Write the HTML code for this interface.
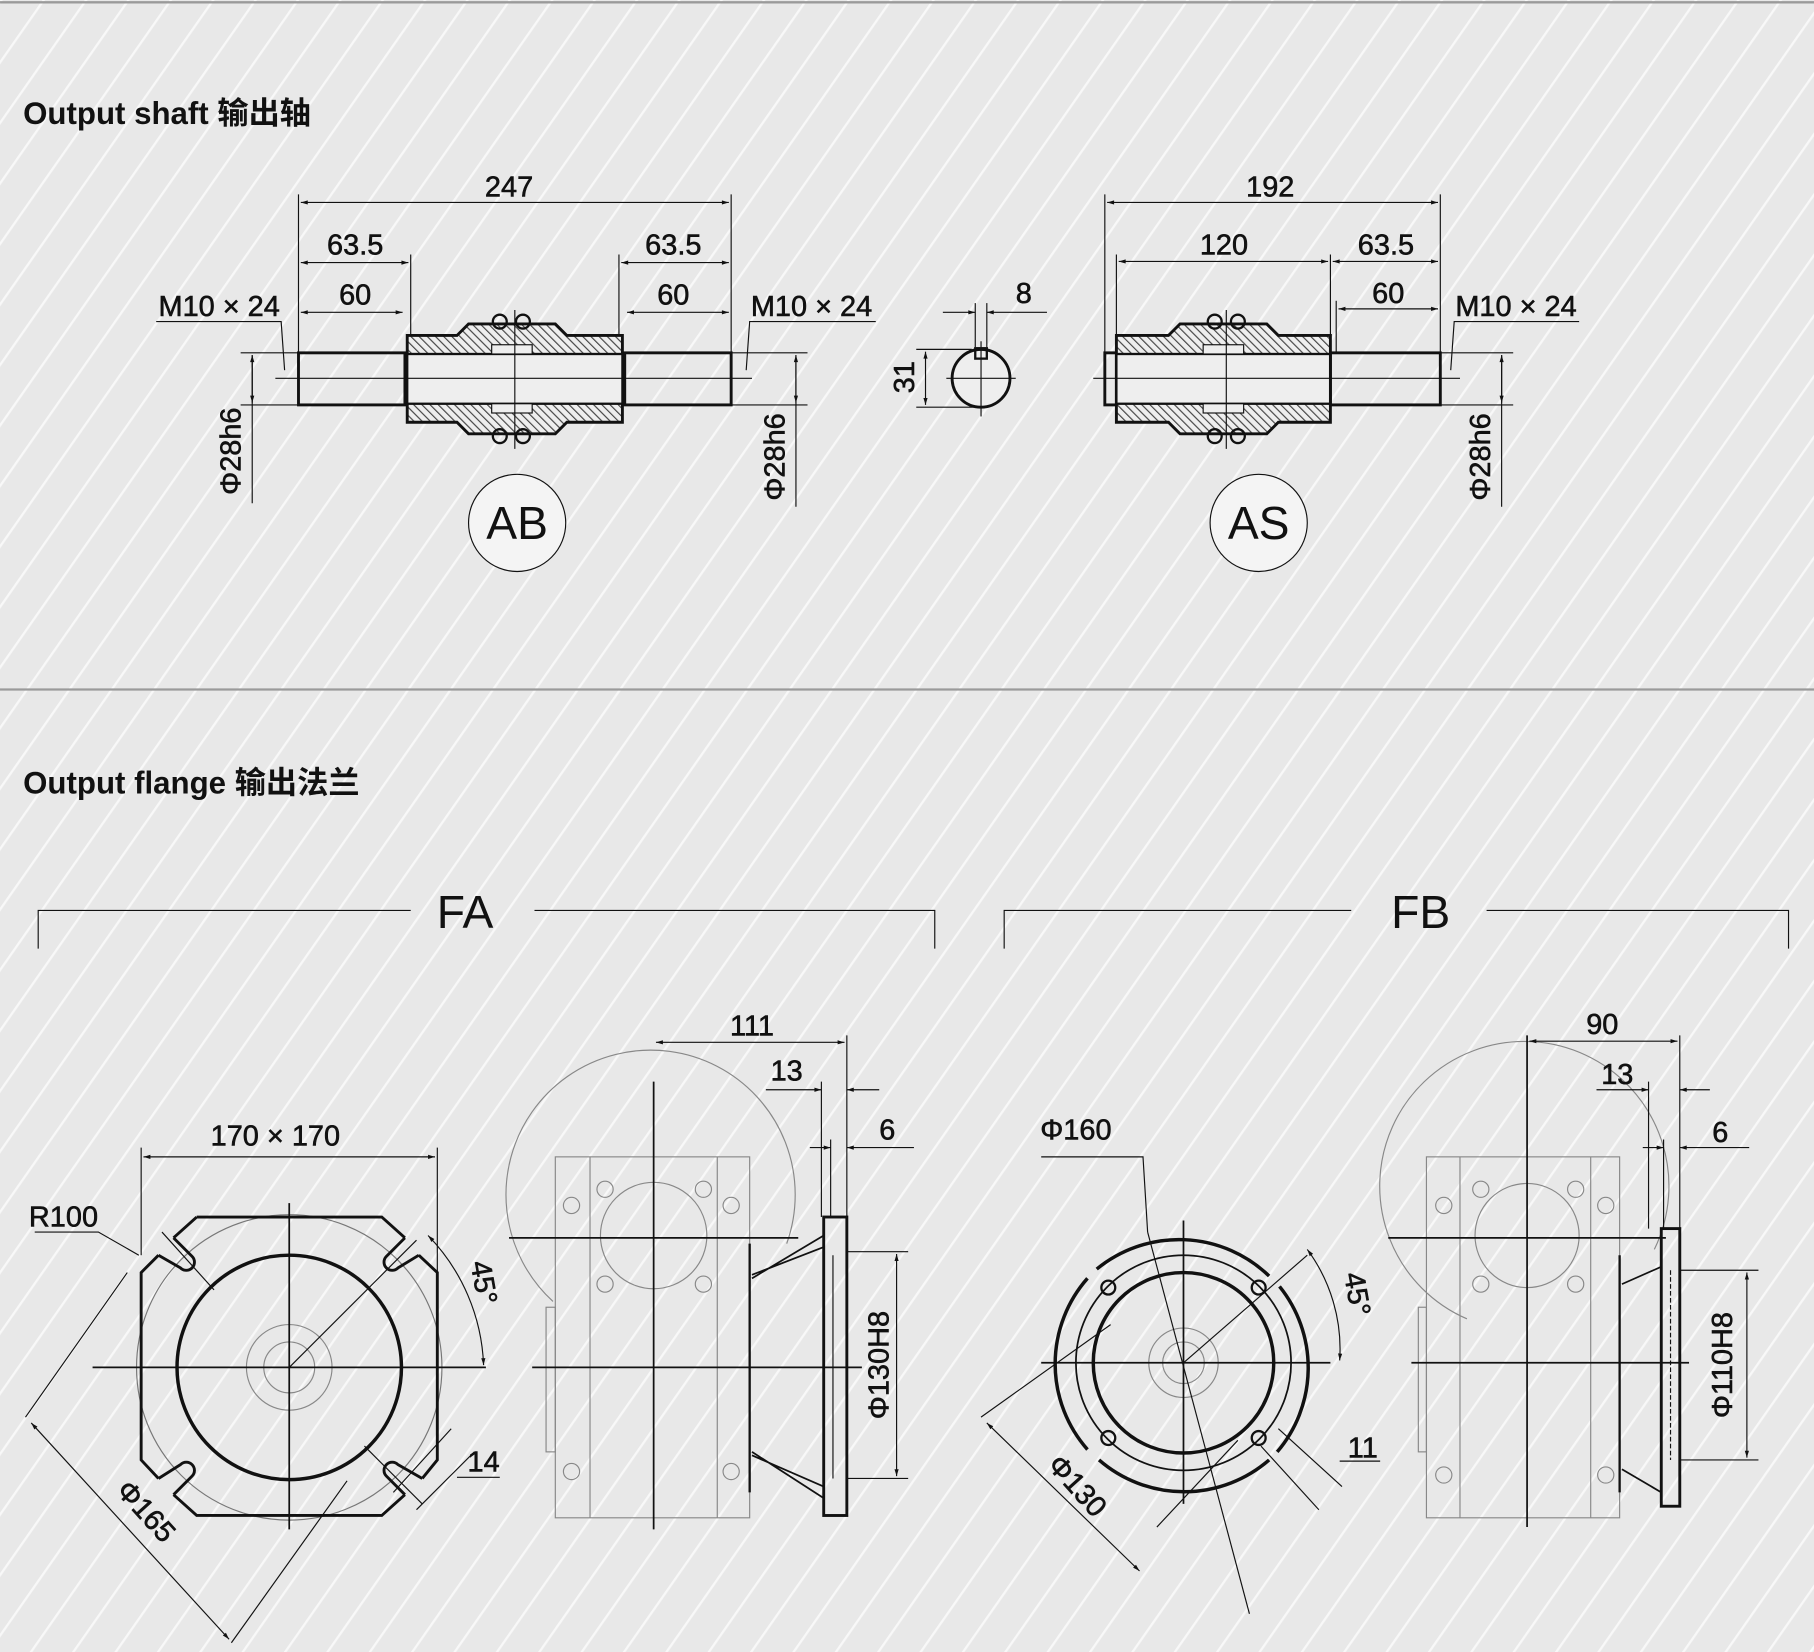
<!DOCTYPE html>
<html><head><meta charset="utf-8"><style>
html,body{margin:0;padding:0;background:#e9e9e9}
svg{display:block}
text{font-family:"Liberation Sans","Noto Sans CJK SC",sans-serif;fill:#111}
</style></head><body>
<svg width="1814" height="1652" viewBox="0 0 1568 1428" xmlns="http://www.w3.org/2000/svg">
<defs>
<pattern id="bg" width="30" height="30" patternUnits="userSpaceOnUse" patternTransform="rotate(35)">
<rect width="30" height="30" fill="#e8e8e8"/><rect width="2" height="30" fill="#f8f8f8"/>
</pattern>
<pattern id="hatch" width="5" height="5" patternUnits="userSpaceOnUse" patternTransform="rotate(-45)">
<rect width="5" height="5" fill="#eee"/><rect width="1" height="5" fill="#444"/>
</pattern>
<marker id="a" viewBox="0 0 10 10" refX="10" refY="5" markerWidth="8" markerHeight="6" orient="auto-start-reverse"><path d="M0,2 L10,5 L0,8z" fill="#111"/></marker>
</defs>
<rect width="1568" height="1428" fill="url(#bg)"/>
<line x1="0" y1="2" x2="1568" y2="2" stroke="#9a9a9a" stroke-width="2"/>
<line x1="0" y1="596" x2="1568" y2="596" stroke="#9a9a9a" stroke-width="2"/>
<text x="20" y="107" font-size="27" font-weight="bold" stroke="#111" stroke-width="0" >Output shaft 输出轴</text>
<text x="20" y="686" font-size="27" font-weight="bold">Output flange 输出法兰</text>

<g stroke="#111" fill="none" stroke-width="1">
<!-- AB -->
<line x1="258" y1="168" x2="258" y2="305"/><line x1="632" y1="168" x2="632" y2="305"/>
<line x1="260" y1="175" x2="630" y2="175" marker-start="url(#a)" marker-end="url(#a)"/>
<line x1="260" y1="227" x2="353" y2="227" marker-start="url(#a)" marker-end="url(#a)"/>
<line x1="355" y1="220" x2="355" y2="290"/><line x1="535" y1="220" x2="535" y2="290"/>
<line x1="537" y1="227" x2="630" y2="227" marker-start="url(#a)" marker-end="url(#a)"/>
<line x1="260" y1="270" x2="348" y2="270" marker-start="url(#a)" marker-end="url(#a)"/>
<line x1="542" y1="270" x2="630" y2="270" marker-start="url(#a)" marker-end="url(#a)"/>
<polyline points="135,278 243,278 246,320"/><polyline points="757,278 648,278 645,320"/>
<line x1="208" y1="305" x2="258" y2="305"/><line x1="208" y1="350" x2="258" y2="350"/>
<line x1="218" y1="307" x2="218" y2="435" /><line x1="218" y1="307" x2="218" y2="348" marker-start="url(#a)" marker-end="url(#a)"/>
<line x1="632" y1="305" x2="698" y2="305"/><line x1="632" y1="350" x2="698" y2="350"/>
<line x1="688" y1="307" x2="688" y2="438"/><line x1="688" y1="307" x2="688" y2="348" marker-start="url(#a)" marker-end="url(#a)"/>
<rect x="258" y="305" width="92" height="45" stroke-width="2.5"/>
<rect x="540" y="305" width="92" height="45" stroke-width="2.5"/>
<path d="M352,290 H395 L405,280 H480 L490,290 H538 V365 H490 L480,375 H405 L395,365 H352Z" fill="url(#hatch)" stroke-width="2.5"/>
<rect x="352" y="306" width="186" height="43" fill="#eee" stroke-width="2"/>
<rect x="425" y="298" width="35" height="8" fill="#eee"/><rect x="425" y="349" width="35" height="8" fill="#eee"/>
<circle cx="432" cy="278" r="6" stroke-width="2"/><circle cx="452" cy="278" r="6" stroke-width="2"/>
<circle cx="432" cy="377" r="6" stroke-width="2"/><circle cx="452" cy="377" r="6" stroke-width="2"/>
<line x1="445" y1="268" x2="445" y2="388"/>
<line x1="238" y1="327" x2="650" y2="327"/>
<circle cx="447" cy="452" r="42" fill="#f4f4f4"/>
<!-- key -->
<circle cx="848" cy="327" r="25" stroke-width="2.5" fill="#eee"/>
<rect x="843" y="301" width="10" height="9" stroke-width="2"/>
<line x1="848" y1="295" x2="848" y2="360"/><line x1="818" y1="327" x2="878" y2="327"/>
<line x1="843" y1="262" x2="843" y2="300"/><line x1="853" y1="262" x2="853" y2="300"/>
<line x1="815" y1="270" x2="843" y2="270" marker-end="url(#a)"/><line x1="905" y1="270" x2="853" y2="270" marker-end="url(#a)"/>
<line x1="792" y1="302" x2="840" y2="302"/><line x1="792" y1="352" x2="848" y2="352"/>
<line x1="800" y1="304" x2="800" y2="350" marker-start="url(#a)" marker-end="url(#a)"/>
<!-- AS -->
<line x1="955" y1="168" x2="955" y2="305"/><line x1="1245" y1="168" x2="1245" y2="305"/>
<line x1="957" y1="175" x2="1243" y2="175" marker-start="url(#a)" marker-end="url(#a)"/>
<line x1="965" y1="220" x2="965" y2="290"/><line x1="1150" y1="220" x2="1150" y2="290"/><line x1="1155" y1="260" x2="1155" y2="305"/>
<line x1="967" y1="226" x2="1148" y2="226" marker-start="url(#a)" marker-end="url(#a)"/>
<line x1="1152" y1="226" x2="1243" y2="226" marker-start="url(#a)" marker-end="url(#a)"/>
<line x1="1157" y1="267" x2="1243" y2="267" marker-start="url(#a)" marker-end="url(#a)"/>
<polyline points="1365,278 1257,278 1254,320"/>
<rect x="955" y="305" width="10" height="45" stroke-width="2.5"/>
<path d="M965,290 H1010 L1020,280 H1095 L1105,290 H1150 V365 H1105 L1095,375 H1020 L1010,365 H965Z" fill="url(#hatch)" stroke-width="2.5"/>
<rect x="965" y="306" width="185" height="43" fill="#eee" stroke-width="2"/>
<rect x="1040" y="298" width="35" height="8" fill="#eee"/><rect x="1040" y="349" width="35" height="8" fill="#eee"/>
<circle cx="1050" cy="278" r="6" stroke-width="2"/><circle cx="1070" cy="278" r="6" stroke-width="2"/>
<circle cx="1050" cy="377" r="6" stroke-width="2"/><circle cx="1070" cy="377" r="6" stroke-width="2"/>
<line x1="1060" y1="268" x2="1060" y2="388"/>
<rect x="1150" y="305" width="95" height="45" stroke-width="2.5"/>
<line x1="945" y1="327" x2="1262" y2="327"/>
<line x1="1245" y1="305" x2="1308" y2="305"/><line x1="1245" y1="350" x2="1308" y2="350"/>
<line x1="1298" y1="307" x2="1298" y2="438"/><line x1="1298" y1="307" x2="1298" y2="348" marker-start="url(#a)" marker-end="url(#a)"/>
<circle cx="1088" cy="452" r="42" fill="#f4f4f4"/>

<!-- brackets -->
<polyline points="33,820 33,787 355,787"/><polyline points="462,787 808,787 808,820"/>
<polyline points="868,820 868,787 1168,787"/><polyline points="1285,787 1546,787 1546,820"/>

<!-- FA front -->
<line x1="122" y1="992" x2="122" y2="1085"/><line x1="378" y1="992" x2="378" y2="1100"/>
<line x1="124" y1="1000" x2="376" y2="1000" marker-start="url(#a)" marker-end="url(#a)"/>
<circle cx="250" cy="1182" r="132" stroke="#777"/>
<path d="M170,1052 H330 L350,1070 M362,1085 L378,1100 V1262 L365,1278 M350,1292 L330,1310 H170 L150,1292 M137,1278 L122,1262 V1100 L137,1085 M150,1070 L170,1052" stroke-width="2.5"/>
<g stroke-width="2.5">
<path d="M150,1070 L166,1086 A7,7 0 0 1 156,1096 L137,1085"/>
<path d="M350,1070 L334,1086 A7,7 0 0 0 344,1096 L362,1085"/>
<path d="M150,1292 L166,1276 A7,7 0 0 0 156,1266 L137,1278"/>
<path d="M350,1292 L334,1276 A7,7 0 0 1 344,1266 L365,1278"/>
</g>
<circle cx="250" cy="1182" r="97" stroke-width="3"/>
<circle cx="250" cy="1182" r="37" stroke="#888"/><circle cx="250" cy="1182" r="22" stroke="#888"/>
<line x1="250" y1="1040" x2="250" y2="1322" stroke-width="1.5"/><line x1="80" y1="1182" x2="420" y2="1182" stroke-width="1.5"/>
<line x1="250" y1="1182" x2="360" y2="1072"/>
<line x1="140" y1="1065" x2="185" y2="1115"/><line x1="315" y1="1250" x2="365" y2="1300"/>
<path d="M370,1068 A170,170 0 0 1 418,1180" marker-start="url(#a)" marker-end="url(#a)"/>
<polyline points="30,1065 85,1065 120,1085"/>
<line x1="110" y1="1100" x2="22" y2="1225"/><line x1="300" y1="1280" x2="200" y2="1420"/>
<line x1="27" y1="1230" x2="198" y2="1417" marker-start="url(#a)" marker-end="url(#a)"/>
<line x1="340" y1="1290" x2="390" y2="1235"/><line x1="360" y1="1305" x2="410" y2="1255"/>
<polyline points="395,1277 432,1277"/>
<!-- FA side -->
<g stroke="#888">
<path d="M478,1125 A125,125 0 1 1 680,1075"/>
<rect x="480" y="1000" width="168" height="312"/>
<line x1="510" y1="1000" x2="510" y2="1312"/><line x1="620" y1="1000" x2="620" y2="1312"/>
<circle cx="565" cy="1068" r="46"/>
<circle cx="523" cy="1028" r="7"/><circle cx="608" cy="1028" r="7"/><circle cx="523" cy="1110" r="7"/><circle cx="608" cy="1110" r="7"/>
<circle cx="494" cy="1042" r="7"/><circle cx="632" cy="1042" r="7"/><circle cx="494" cy="1272" r="7"/><circle cx="632" cy="1272" r="7"/>
<rect x="472" y="1130" width="8" height="125"/>
</g>
<rect x="712" y="1052" width="20" height="258" stroke-width="2.5"/>
<line x1="648" y1="1075" x2="648" y2="1290" stroke-width="2"/>
<path d="M650,1105 L712,1068 M650,1102 L712,1078 M650,1255 L712,1295 M650,1258 L712,1285" stroke-width="1.5"/>
<line x1="720" y1="1085" x2="720" y2="1278"/>
<line x1="565" y1="935" x2="565" y2="1322" stroke-width="1.5"/>
<line x1="440" y1="1070" x2="690" y2="1070" stroke-width="1.5"/><line x1="460" y1="1182" x2="745" y2="1182" stroke-width="1.5"/>
<line x1="732" y1="895" x2="732" y2="1052"/><line x1="710" y1="935" x2="710" y2="1052"/><line x1="718" y1="985" x2="718" y2="1052"/>
<line x1="567" y1="901" x2="730" y2="901" marker-start="url(#a)" marker-end="url(#a)"/>
<line x1="662" y1="942" x2="710" y2="942" marker-end="url(#a)"/><line x1="760" y1="942" x2="732" y2="942" marker-end="url(#a)"/>
<line x1="700" y1="992" x2="718" y2="992" marker-end="url(#a)"/><line x1="790" y1="992" x2="732" y2="992" marker-end="url(#a)"/>
<line x1="732" y1="1082" x2="785" y2="1082"/><line x1="732" y1="1278" x2="785" y2="1278"/>
<line x1="775" y1="1084" x2="775" y2="1276" marker-start="url(#a)" marker-end="url(#a)"/>

<!-- FB front -->
<g stroke-width="3">
<path d="M948,1097 A112,112 0 0 1 1097,1103"/><path d="M1106,1112 A112,112 0 0 1 1104,1255"/>
<path d="M1097,1262 A112,112 0 0 1 950,1262"/><path d="M940,1253 A112,112 0 0 1 940,1105"/>
</g>
<circle cx="1023" cy="1178" r="93" stroke-width="1.5"/>
<circle cx="1023" cy="1178" r="78" stroke-width="3"/>
<circle cx="1023" cy="1178" r="30" stroke="#888"/><circle cx="1023" cy="1178" r="18" stroke="#888"/>
<circle cx="958" cy="1113" r="6" stroke-width="2"/><circle cx="1088" cy="1113" r="6" stroke-width="2"/>
<circle cx="958" cy="1243" r="6" stroke-width="2"/><circle cx="1088" cy="1243" r="6" stroke-width="2"/>
<line x1="1023" y1="1055" x2="1023" y2="1300" stroke-width="1.5"/><line x1="900" y1="1178" x2="1150" y2="1178" stroke-width="1.5"/>
<line x1="1023" y1="1178" x2="1130" y2="1085"/>
<path d="M1130,1080 A145,145 0 0 1 1158,1176" marker-start="url(#a)" marker-end="url(#a)"/>
<polyline points="900,1000 988,1000 992,1065"/><line x1="992" y1="1065" x2="1080" y2="1395"/>
<line x1="960" y1="1145" x2="848" y2="1225"/><line x1="1070" y1="1245" x2="1000" y2="1320" />
<line x1="853" y1="1230" x2="985" y2="1358" marker-start="url(#a)" marker-end="url(#a)"/>
<line x1="1090" y1="1250" x2="1140" y2="1305"/><line x1="1105" y1="1235" x2="1160" y2="1285"/>
<polyline points="1158,1263 1193,1263"/>
<!-- FB side -->
<g stroke="#888">
<path d="M1268,1140 A125,125 0 1 1 1430,1080"/>
<rect x="1233" y="1000" width="167" height="312"/>
<line x1="1262" y1="1000" x2="1262" y2="1312"/><line x1="1375" y1="1000" x2="1375" y2="1312"/>
<circle cx="1320" cy="1068" r="45"/>
<circle cx="1280" cy="1028" r="7"/><circle cx="1362" cy="1028" r="7"/><circle cx="1280" cy="1110" r="7"/><circle cx="1362" cy="1110" r="7"/>
<circle cx="1248" cy="1042" r="7"/><circle cx="1388" cy="1042" r="7"/><circle cx="1248" cy="1275" r="7"/><circle cx="1388" cy="1275" r="7"/>
<rect x="1226" y="1130" width="7" height="125"/>
</g>
<rect x="1436" y="1062" width="16" height="240" stroke-width="2.5"/>
<line x1="1400" y1="1085" x2="1400" y2="1290" stroke-width="2"/>
<line x1="1444" y1="1098" x2="1444" y2="1262" stroke-dasharray="4,2"/>
<path d="M1402,1110 L1436,1095 M1402,1270 L1436,1290" stroke-width="1.5"/>
<line x1="1320" y1="895" x2="1320" y2="1320" stroke-width="1.5"/>
<line x1="1200" y1="1070" x2="1440" y2="1070" stroke-width="1.5"/><line x1="1220" y1="1178" x2="1460" y2="1178" stroke-width="1.5"/>
<line x1="1452" y1="895" x2="1452" y2="1062"/><line x1="1425" y1="935" x2="1425" y2="1062"/><line x1="1438" y1="985" x2="1438" y2="1062"/>
<line x1="1322" y1="900" x2="1450" y2="900" marker-start="url(#a)" marker-end="url(#a)"/>
<line x1="1380" y1="942" x2="1425" y2="942" marker-end="url(#a)"/><line x1="1478" y1="942" x2="1452" y2="942" marker-end="url(#a)"/>
<line x1="1420" y1="992" x2="1438" y2="992" marker-end="url(#a)"/><line x1="1512" y1="992" x2="1452" y2="992" marker-end="url(#a)"/>
<line x1="1452" y1="1098" x2="1520" y2="1098"/><line x1="1452" y1="1262" x2="1520" y2="1262"/>
<line x1="1510" y1="1100" x2="1510" y2="1260" marker-start="url(#a)" marker-end="url(#a)"/>
</g>

<g font-size="25" stroke="#111" stroke-width="0.5">
<text x="440" y="170" text-anchor="middle">247</text>
<text x="307" y="220" text-anchor="middle">63.5</text><text x="582" y="220" text-anchor="middle">63.5</text>
<text x="307" y="263" text-anchor="middle">60</text><text x="582" y="263" text-anchor="middle">60</text>
<text x="137" y="273">M10 × 24</text><text x="649" y="273">M10 × 24</text>
<text transform="translate(208,390) rotate(-90)" text-anchor="middle">Φ28h6</text>
<text transform="translate(678,395) rotate(-90)" text-anchor="middle">Φ28h6</text>
<text x="885" y="262" text-anchor="middle">8</text>
<text transform="translate(790,326) rotate(-90)" text-anchor="middle">31</text>
<text x="1098" y="170" text-anchor="middle">192</text>
<text x="1058" y="220" text-anchor="middle">120</text><text x="1198" y="220" text-anchor="middle">63.5</text>
<text x="1200" y="262" text-anchor="middle">60</text>
<text x="1258" y="273">M10 × 24</text>
<text transform="translate(1288,395) rotate(-90)" text-anchor="middle">Φ28h6</text>
<text x="238" y="990" text-anchor="middle">170 × 170</text>
<text x="25" y="1060">R100</text>
<text transform="translate(410,1110) rotate(80)" text-anchor="middle">45°</text>
<text x="418" y="1272" text-anchor="middle">14</text>
<text transform="translate(120,1312) rotate(48)" text-anchor="middle">Φ165</text>
<text x="650" y="895" text-anchor="middle">111</text>
<text x="680" y="934" text-anchor="middle">13</text>
<text x="767" y="985" text-anchor="middle">6</text>
<text transform="translate(768,1180) rotate(-90)" text-anchor="middle">Φ130H8</text>
<text x="930" y="985" text-anchor="middle">Φ160</text>
<text transform="translate(1165,1120) rotate(80)" text-anchor="middle">45°</text>
<text x="1178" y="1260" text-anchor="middle">11</text>
<text transform="translate(925,1290) rotate(48)" text-anchor="middle">Φ130</text>
<text x="1385" y="894" text-anchor="middle">90</text>
<text x="1398" y="937" text-anchor="middle">13</text>
<text x="1487" y="987" text-anchor="middle">6</text>
<text transform="translate(1497,1180) rotate(-90)" text-anchor="middle">Φ110H8</text>
</g>
<text x="447" y="466" font-size="40" text-anchor="middle">AB</text>
<text x="1088" y="466" font-size="40" text-anchor="middle">AS</text>
<text x="402" y="802" font-size="40" text-anchor="middle">FA</text>
<text x="1228" y="802" font-size="40" text-anchor="middle">FB</text>
</svg>
</body></html>
